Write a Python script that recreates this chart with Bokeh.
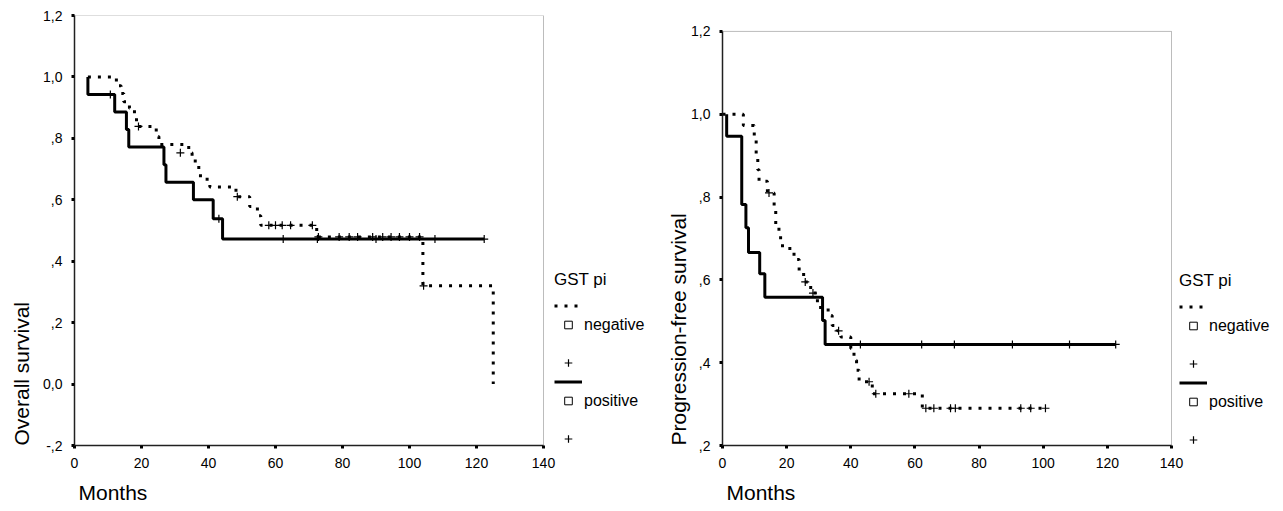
from bokeh.plotting import figure
from bokeh.layouts import row
from bokeh.models import (Range1d, FixedTicker, CustomJSTickFormatter, Legend, LegendItem,
                          BoxAnnotation, Title)
from bokeh.embed import file_html
from bokeh.resources import INLINE

FONT = "Liberation Sans"
NAN = float("nan")

# ---------------- data ----------------
x_ticks = [0, 20, 40, 60, 80, 100, 120, 140]
x_labels = ["0", "20", "40", "60", "80", "100", "120", "140"]
os_ticks = [-0.2, 0.0, 0.2, 0.4, 0.6, 0.8, 1.0, 1.2]
os_labels = ["-,2", "0,0", ",2", ",4", ",6", ",8", "1,0", "1,2"]
pfs_ticks = [0.2, 0.4, 0.6, 0.8, 1.0, 1.2]
pfs_labels = [",2", ",4", ",6", ",8", "1,0", "1,2"]

legend_title = "GST pi"
groups = ["negative", "positive"]
x_title = "Months"
os_title = "Overall survival"
pfs_title = "Progression-free survival"

# Overall survival, GST pi negative (dotted)
os_neg_t = [4, 12.5, 13.9, 14.7, 16.4, 17.9, 18.5, 24.4, 25.2, 34.1, 35.1, 37.1, 37.6,
            40.4, 48.2, 52.3, 54.6, 55.6, 72.3, 104.0, 125.0]
os_neg_s = [1.0, 0.971, 0.946, 0.919, 0.898, 0.871, 0.839, 0.806, 0.780, 0.753, 0.726, 0.691,
            0.667, 0.642, 0.610, 0.578, 0.548, 0.517, 0.479, 0.320, 0.0]
os_neg_ct = [19.1, 31.6, 48.6, 58.0, 60.0, 62.0, 64.5, 71.0, 72.8, 79.0, 82.0, 84.5, 89.0,
             92.0, 94.5, 97.0, 100.0, 103.0, 104.2]
os_neg_cs = [0.839, 0.753, 0.610, 0.517, 0.517, 0.517, 0.517, 0.517, 0.479, 0.479, 0.479,
             0.479, 0.479, 0.479, 0.479, 0.479, 0.479, 0.479, 0.320]

# Overall survival, GST pi positive (solid)
os_pos_t = [4, 4, 12, 15.5, 16.2, 26.7, 27.3, 35.5, 41.4, 44.2, 122.3]
os_pos_s = [1.0, 0.943, 0.886, 0.829, 0.772, 0.714, 0.657, 0.600, 0.538, 0.472, 0.472]
os_pos_ct = [10.7, 43.1, 62.3, 72.5, 90.0, 107.6, 122.3]
os_pos_cs = [0.943, 0.538, 0.472, 0.472, 0.472, 0.472, 0.472]

# Progression-free survival, negative (dotted)
pfs_neg_t = [0, 6.5, 9.9, 10.5, 11.0, 11.4, 14.0, 16.1, 16.6, 17.6, 18.7, 22.3, 23.9, 25.3,
             27.5, 29.6, 30.6, 33.7, 34.2, 35.8, 36.9, 40.0, 41.0, 41.8, 42.6, 46.7, 62.3, 100.7]
pfs_neg_s = [1.0, 0.973, 0.946, 0.892, 0.866, 0.838, 0.810, 0.778, 0.730, 0.702, 0.676, 0.649,
             0.622, 0.595, 0.568, 0.541, 0.527, 0.514, 0.490, 0.477, 0.462, 0.434, 0.406,
             0.382, 0.354, 0.325, 0.290, 0.290]
pfs_neg_ct = [14.5, 25.8, 28.2, 36.2, 45.7, 47.8, 58.1, 63.4, 65.9, 71.1, 72.6, 93.0, 96.1, 100.7]
pfs_neg_cs = [0.810, 0.595, 0.568, 0.477, 0.354, 0.325, 0.325, 0.290, 0.290, 0.290, 0.290,
              0.290, 0.290, 0.290]

# Progression-free survival, positive (solid)
pfs_pos_t = [1.3, 1.3, 6.0, 7.3, 8.1, 11.6, 13.2, 31.2, 32.0, 122.6]
pfs_pos_s = [1.0, 0.947, 0.782, 0.726, 0.666, 0.615, 0.558, 0.502, 0.444, 0.444]
pfs_pos_ct = [43.0, 62.1, 72.3, 90.4, 108.2, 122.6]
pfs_pos_cs = [0.444, 0.444, 0.444, 0.444, 0.444, 0.444]

X_MAX = 140
Y_MAX = 1.2
HEIGHT = 511
TOP = 15        # frame top (both panels aligned)
BOTTOM = 64     # space under the frame


def formatter(vals, labs):
    return CustomJSTickFormatter(args=dict(vals=vals, labs=labs), code="""
        for (let i = 0; i < vals.length; i++) {
            if (Math.abs(vals[i] - tick) < 1e-6) { return labs[i]; }
        }
        return "";
    """)


def style_axis(ax, bounds):
    ax.bounds = bounds
    ax.axis_line_color = "#222222"
    ax.axis_line_width = 1.5
    ax.major_tick_in = 0
    ax.major_tick_out = 3
    ax.major_tick_line_width = 3
    ax.major_tick_line_color = "black"
    ax.minor_tick_line_color = None
    ax.major_label_text_font = FONT
    ax.major_label_text_font_size = "14px"
    ax.major_label_text_color = "black"
    ax.major_label_standoff = 9


def panel(width, left, plot_px, ymin, box_px, yticks, ylabels, ytitle, ytitle_standoff,
          neg_t, neg_s, neg_ct, neg_cs, pos_t, pos_s, pos_ct, pos_cs, leg_loc, title_standoff):
    frame_w = width - left
    frame_h = HEIGHT - TOP - BOTTOM
    x_end = X_MAX * frame_w / plot_px          # frame also holds the legend area
    y_end = ymin + (Y_MAX - ymin) * frame_h / box_px
    p = figure(width=width, height=HEIGHT, x_range=Range1d(0, x_end),
               y_range=Range1d(ymin, y_end),
               output_backend="svg", toolbar_location=None,
               min_border_left=left, min_border_right=0,
               min_border_top=TOP, min_border_bottom=BOTTOM)
    p.grid.visible = False
    p.outline_line_color = None
    p.background_fill_color = "white"
    p.border_fill_color = "white"

    p.xaxis.ticker = FixedTicker(ticks=x_ticks)
    p.xaxis.formatter = formatter(x_ticks, x_labels)
    p.yaxis.ticker = FixedTicker(ticks=yticks)
    p.yaxis.formatter = formatter(yticks, ylabels)
    style_axis(p.xaxis[0], (0, X_MAX))
    style_axis(p.yaxis[0], (ymin, Y_MAX))

    # plot box (top and right edges)
    p.add_layout(BoxAnnotation(left=0, right=X_MAX, bottom=ymin, top=Y_MAX,
                               fill_color=None, fill_alpha=0,
                               line_color="#222222", line_width=1))

    # axis titles, aligned to the start of the axes like the original
    p.add_layout(Title(text=x_title, align="left", offset=4, standoff=16,
                       text_font=FONT, text_font_size="21px", text_font_style="normal",
                       text_color="black"), "below")
    p.add_layout(Title(text=ytitle, align="left", offset=0, standoff=ytitle_standoff,
                       text_font=FONT, text_font_size="21px", text_font_style="normal",
                       text_color="black"), "left")

    neg = p.step(neg_t, neg_s, mode="after", line_color="black", line_width=3,
                 line_dash="3 7", line_cap="butt")
    pos = p.step(pos_t, pos_s, mode="after", line_color="black", line_width=3)
    negc = p.scatter(neg_ct, neg_cs, marker="cross", size=8, line_color="black", line_width=1.2)
    posc = p.scatter(pos_ct, pos_cs, marker="cross", size=8, line_color="black", line_width=1.2)
    # legend-only proxies (not drawn: NaN coordinates)
    sq = p.scatter([NAN], [NAN], marker="square", size=6, fill_color="white",
                   line_color="black", line_width=1)
    blank = p.scatter([NAN], [NAN], marker="square", size=1, line_alpha=0, fill_alpha=0)

    items = [
        LegendItem(label=" ", renderers=[neg]),
        LegendItem(label=groups[0], renderers=[sq]),
        LegendItem(label=" ", renderers=[blank]),
        LegendItem(label=" ", renderers=[negc]),
        LegendItem(label=" ", renderers=[pos]),
        LegendItem(label=groups[1], renderers=[sq]),
        LegendItem(label=" ", renderers=[blank]),
        LegendItem(label=" ", renderers=[posc]),
    ]
    leg = Legend(items=items, title=legend_title, location=leg_loc,
                 orientation="vertical",
                 glyph_width=28, glyph_height=19, label_height=19, label_standoff=2,
                 spacing=0, padding=0, margin=0, border_line_color=None,
                 background_fill_alpha=0,
                 label_text_font=FONT, label_text_font_size="16px", label_text_color="black",
                 title_text_font=FONT, title_text_font_size="17px",
                 title_text_font_style="normal", title_text_color="black",
                 title_standoff=title_standoff)
    p.add_layout(leg, "center")
    return p


# left panel: frame starts at x=74, 140 months -> 469 px; box height 432 px
p1 = panel(663, 74, 469, -0.2, 432, os_ticks, os_labels, os_title, 15,
           os_neg_t, os_neg_s, os_neg_ct, os_neg_cs, os_pos_t, os_pos_s, os_pos_ct, os_pos_cs,
           (480, -3), 6)
# right panel: frame starts at x=722, 140 months -> 449 px; box height 416 px
p2 = panel(620, 59, 449, 0.2, 416, pfs_ticks, pfs_labels, pfs_title, -3,
           pfs_neg_t, pfs_neg_s, pfs_neg_ct, pfs_neg_cs, pfs_pos_t, pfs_pos_s, pfs_pos_ct,
           pfs_pos_cs, (457, -4), 6)

layout = row(p1, p2)
open("out.html", "w").write(file_html(layout, INLINE))
